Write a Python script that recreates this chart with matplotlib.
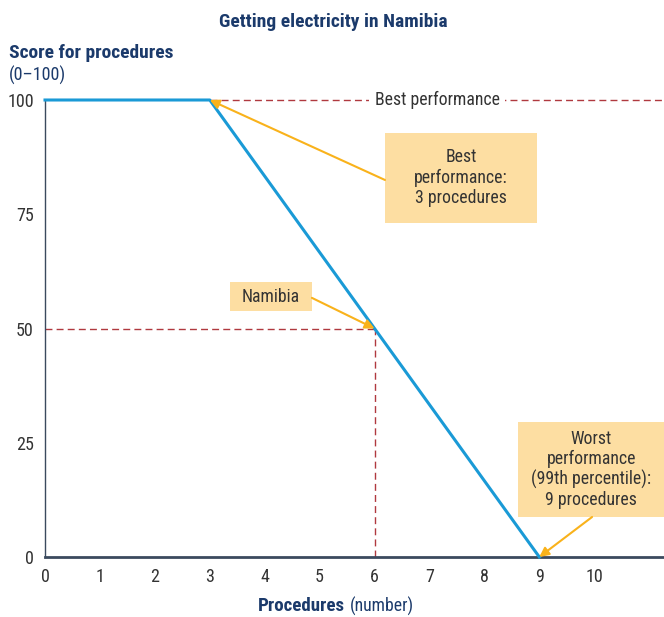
import matplotlib
matplotlib.use("Agg")
import matplotlib.pyplot as plt
from matplotlib.patches import Rectangle

# data
procedures = [0, 3, 9]
scores = [100, 100, 0]
best_procedures = 3
worst_procedures = 9
namibia_procedures = 6
namibia_score = 50
x_ticks = list(range(0, 11))
y_ticks = [0, 25, 50, 75, 100]

navy = "#1b3a6b"
text_grey = "#333333"
blue = "#1a9ad6"
dash_red = "#b0393f"
arrow_col = "#f9b21b"
box_col = "#fddea2"

plt.rcParams["font.family"] = ["Roboto Condensed", "Lato", "DejaVu Sans"]

fig = plt.figure(figsize=(6.64, 6.17), dpi=100)
ax = fig.add_axes([45 / 664, 1 - 557 / 617, 1 - 45 / 664, (557 - 100) / 617])
xmax = 11.27

ax.plot(procedures, scores, color=blue, lw=2.2, clip_on=False, zorder=3)

# best performance reference line
ax.plot([best_procedures, xmax], [100, 100], color=dash_red, lw=1, ls=(0, (5, 3)),
        clip_on=False, zorder=2)
ax.text(7.14, 100, "Best performance", ha="center", va="center", fontsize=12.8,
        color=text_grey, bbox=dict(facecolor="white", edgecolor="none", pad=4), zorder=2.5)

# Namibia guide lines
ax.plot([0, namibia_procedures], [namibia_score, namibia_score], color=dash_red, lw=1,
        ls=(0, (5, 3)), zorder=2)
ax.plot([namibia_procedures, namibia_procedures], [0, namibia_score], color=dash_red, lw=1,
        ls=(0, (5, 3)), zorder=2)

arrow = dict(arrowstyle="-|>", color=arrow_col, lw=1.5, mutation_scale=14,
             shrinkA=0, shrinkB=0)


def callout(text, target, box, start, ls=1.1):
    # box = (x0, x1, y0, y1) in data units
    x0, x1, y0, y1 = box
    ax.add_patch(Rectangle((x0, y0), x1 - x0, y1 - y0, facecolor=box_col,
                           edgecolor="none", clip_on=False, zorder=4))
    ax.text((x0 + x1) / 2, (y0 + y1) / 2, text, ha="center", va="center",
            fontsize=12.8, color=text_grey, linespacing=ls, zorder=5)
    ax.annotate("", xy=target, xytext=start, arrowprops=arrow,
                annotation_clip=False, zorder=4)


callout("Best\nperformance:\n3 procedures", (best_procedures, 100),
        (6.19, 8.96, 73.1, 92.8), (6.19, 82.5), ls=1.17)
callout("Namibia", (namibia_procedures, namibia_score),
        (3.37, 4.86, 53.8, 60.2), (4.86, 56.7))
callout("Worst\nperformance\n(99th percentile):\n9 procedures", (worst_procedures, 0),
        (8.62, xmax, 8.75, 29.5), (9.96, 8.75), ls=1.15)

ax.set_xlim(0, xmax)
ax.set_ylim(0, 100)
ax.set_xticks(x_ticks)
ax.set_yticks(y_ticks)
ax.tick_params(length=0, labelsize=13, colors=text_grey, pad=8)
for s in ["top", "right"]:
    ax.spines[s].set_visible(False)
ax.spines["bottom"].set_color("#3b4a5e")
ax.spines["bottom"].set_linewidth(2)
ax.spines["left"].set_color("#3b4a5e")
ax.spines["left"].set_linewidth(1)

fig.text(333 / 664, 1 - 22 / 617, "Getting electricity in Namibia", ha="center", va="center",
         fontsize=14, fontweight="bold", color=navy)
fig.text(9 / 664, 1 - 53 / 617, "Score for procedures", ha="left", va="center",
         fontsize=14, fontweight="bold", color=navy)
fig.text(9 / 664, 1 - 75 / 617, "(0\u2013100)", ha="left", va="center",
         fontsize=13, color=navy)
fig.text(345 / 664, 1 - 606 / 617, "Procedures", ha="right", va="center",
         fontsize=13.6, fontweight="bold", color=navy)
fig.text(350 / 664, 1 - 606 / 617, "(number)", ha="left", va="center",
         fontsize=12.8, color=navy)

fig.savefig("out.png", dpi=100)
